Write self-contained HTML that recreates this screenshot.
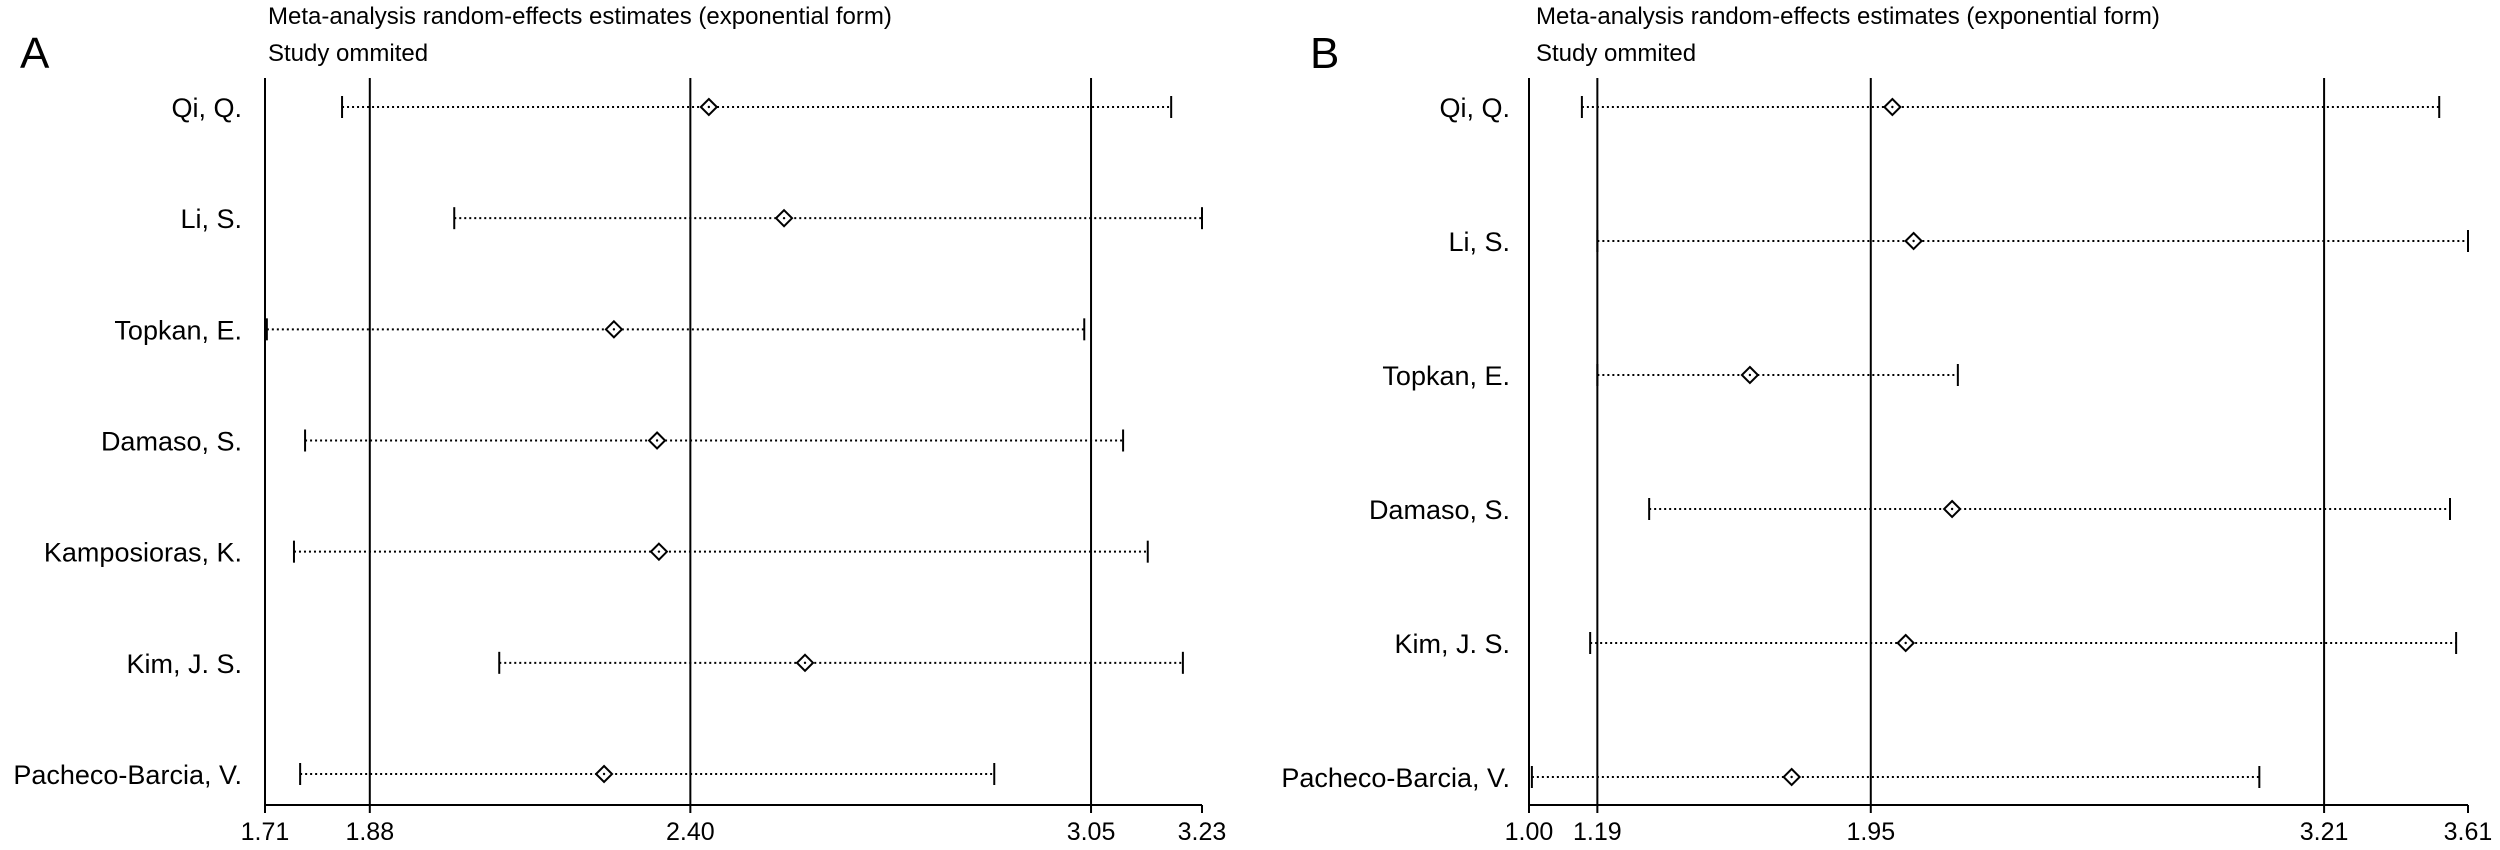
<!DOCTYPE html>
<html><head><meta charset="utf-8">
<style>
html,body{margin:0;padding:0;background:#fff;}
svg{display:block;font-family:"Liberation Sans",Arial,sans-serif;}
</style></head>
<body>
<svg id="chart" width="2500" height="850" viewBox="0 0 2500 850" xmlns="http://www.w3.org/2000/svg">
<text x="20" y="68" font-size="44">A</text>
<text x="268" y="24" font-size="24">Meta-analysis random-effects estimates (exponential form)</text>
<text x="268" y="61" font-size="24">Study ommited</text>
<text x="1310" y="68" font-size="44">B</text>
<text x="1536" y="24" font-size="24">Meta-analysis random-effects estimates (exponential form)</text>
<text x="1536" y="61" font-size="24">Study ommited</text>
<g id="pa"></g>
<g id="pb"></g>
</svg>
<script>
// Panel A data
const studiesA = ["Qi, Q.","Li, S.","Topkan, E.","Damaso, S.","Kamposioras, K.","Kim, J. S.","Pacheco-Barcia, V."];
const estA = [2.43, 2.552, 2.276, 2.346, 2.349, 2.586, 2.26];
const lowA = [1.835, 2.017, 1.713, 1.775, 1.757, 2.09, 1.767];
const highA = [3.18, 3.23, 3.039, 3.102, 3.142, 3.199, 2.893];
const ticksA = [1.71, 1.88, 2.40, 3.05, 3.23];
const tickLabelsA = ["1.71","1.88","2.40","3.05","3.23"];
const refLinesA = [1.88, 2.40, 3.05];
// Panel B data
const studiesB = ["Qi, Q.","Li, S.","Topkan, E.","Damaso, S.","Kim, J. S.","Pacheco-Barcia, V."];
const estB = [2.01, 2.069, 1.614, 2.176, 2.047, 1.73];
const lowB = [1.147, 1.19, 1.19, 1.334, 1.17, 1.008];
const highB = [3.53, 3.61, 2.192, 3.56, 3.577, 3.03];
const ticksB = [1.00, 1.19, 1.95, 3.21, 3.61];
const tickLabelsB = ["1.00","1.19","1.95","3.21","3.61"];
const refLinesB = [1.19, 1.95, 3.21];

const NS = "http://www.w3.org/2000/svg";
function mk(parent, tag, attrs){
  const e = document.createElementNS(NS, tag);
  for (const k in attrs) e.setAttribute(k, attrs[k]);
  parent.appendChild(e);
  return e;
}
function drawPanel(g, cfg, studies, est, low, high, ticks, tickLabels, refs, prefix){
  const xs = v => cfg.x0 + (v - cfg.vmin) / (cfg.vmax - cfg.vmin) * (cfg.x1 - cfg.x0);
  const n = studies.length;
  const ys = i => cfg.yFirst + i * (cfg.yLast - cfg.yFirst) / (n - 1);
  const la = mk(g, "line", {x1:cfg.x0, y1:cfg.yTop, x2:cfg.x0, y2:cfg.yBase, stroke:"#000", "stroke-width":2});
  
  
  const ba = mk(g, "line", {x1:cfg.x0, y1:cfg.yBase, x2:cfg.x1, y2:cfg.yBase, stroke:"#000", "stroke-width":2});
  
  
  refs.forEach(v => {
    const l = mk(g, "line", {x1:xs(v), y1:cfg.yTop, x2:xs(v), y2:cfg.yBase, stroke:"#000", "stroke-width":2});
    
    
  });
  ticks.forEach((v, i) => {
    const t = mk(g, "line", {x1:xs(v), y1:cfg.yBase, x2:xs(v), y2:cfg.yBase + 8, stroke:"#000", "stroke-width":2});
    
    
    const tx = mk(g, "text", {x:xs(v), y:cfg.yBase + 35, "font-size":25, "text-anchor":"middle"});
    tx.textContent = tickLabels[i];
    
    
  });
  studies.forEach((s, i) => {
    const y = ys(i);
    const lab = mk(g, "text", {x:cfg.labelX, y:y + 10, "font-size":27, "text-anchor":"end"});
    lab.textContent = s;
    
    
    const ci = mk(g, "line", {x1:xs(low[i]), y1:y, x2:xs(high[i]), y2:y, stroke:"#000", "stroke-width":2, "stroke-dasharray":"2 3"});
    
    
    [low[i], high[i]].forEach(v => {
      const c = mk(g, "line", {x1:xs(v), y1:y - 11, x2:xs(v), y2:y + 11, stroke:"#000", "stroke-width":2});
      
      
    });
    const cx = xs(est[i]);
    const d = mk(g, "polygon", {points:`${cx},${y-8} ${cx+8},${y} ${cx},${y+8} ${cx-8},${y}`, fill:"#fff", stroke:"#000", "stroke-width":2});
    
    
    const dot = mk(g, "circle", {cx:cx, cy:y, r:1.2, fill:"#000"});
    
    
  });
}
drawPanel(document.getElementById("pa"),
  {x0:265, x1:1202, vmin:1.71, vmax:3.23, yTop:78, yBase:805, yFirst:107, yLast:774, labelX:242},
  studiesA, estA, lowA, highA, ticksA, tickLabelsA, refLinesA, "panel-a");
drawPanel(document.getElementById("pb"),
  {x0:1529, x1:2468, vmin:1.00, vmax:3.61, yTop:78, yBase:805, yFirst:107, yLast:777, labelX:1510},
  studiesB, estB, lowB, highB, ticksB, tickLabelsB, refLinesB, "panel-b");
</script>
</body></html>
